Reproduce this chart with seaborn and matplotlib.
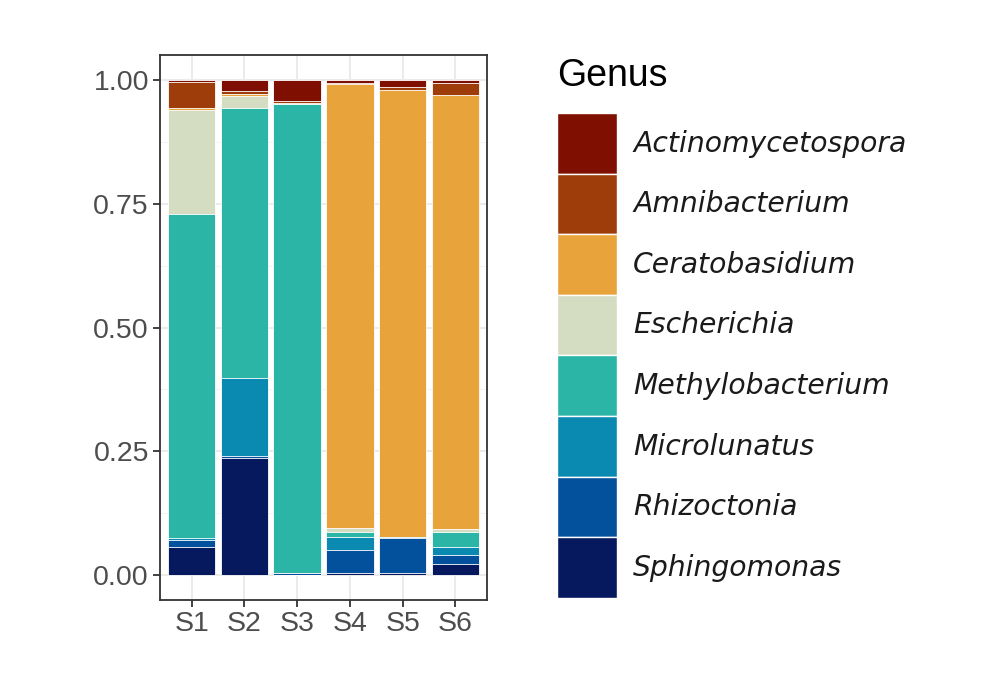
import numpy as np
import pandas as pd
import seaborn as sns
import matplotlib.pyplot as plt
from matplotlib.patches import Patch

samples = ["S1", "S2", "S3", "S4", "S5", "S6"]
genera = ["Actinomycetospora", "Amnibacterium", "Ceratobasidium", "Escherichia",
          "Methylobacterium", "Microlunatus", "Rhizoctonia", "Sphingomonas"]
colors = ["#7F0F00", "#9E3D0A", "#E8A33B", "#D4DCC1",
          "#2BB5A6", "#0A8AB0", "#03509C", "#06185E"]

actinomycetospora = [0.005, 0.023, 0.042, 0.006, 0.015, 0.006]
amnibacterium = [0.052, 0.005, 0.004, 0.002, 0.005, 0.024]
ceratobasidium = [0.003, 0.004, 0.003, 0.897, 0.902, 0.876]
escherichia = [0.211, 0.025, 0.000, 0.007, 0.000, 0.007]
methylobacterium = [0.653, 0.545, 0.946, 0.010, 0.001, 0.030]
microlunatus = [0.004, 0.158, 0.000, 0.027, 0.002, 0.017]
rhizoctonia = [0.016, 0.004, 0.004, 0.047, 0.071, 0.018]
sphingomonas = [0.056, 0.236, 0.001, 0.004, 0.004, 0.022]

values = [actinomycetospora, amnibacterium, ceratobasidium, escherichia,
          methylobacterium, microlunatus, rhizoctonia, sphingomonas]

df = pd.DataFrame(values, index=genera, columns=samples)
# cumulative from the bottom genus (Sphingomonas) upwards
cum = df.iloc[::-1].cumsum().iloc[::-1]

sns.set_style("white")
plt.rcParams['font.family'] = ['Liberation Sans', 'DejaVu Sans']

fig = plt.figure(figsize=(9.95, 6.75), dpi=100)
ax = fig.add_axes([160 / 995, 75 / 675, 327 / 995, 545 / 675])

# draw the tallest cumulative bar first, then cover it with the next ones
for g, c in zip(genera, colors):
    sns.barplot(x=samples, y=cum.loc[g].values, color=c, width=0.9,
                edgecolor="white", linewidth=0.6, saturation=1, ax=ax, zorder=3)

ax.set_xlim(-0.6, 5.6)
ax.set_ylim(-0.05, 1.05)
ax.set_yticks([0, 0.25, 0.5, 0.75, 1.0])
ax.set_yticklabels(["0.00", "0.25", "0.50", "0.75", "1.00"])
ax.set_yticks([0.125, 0.375, 0.625, 0.875], minor=True)
ax.grid(True, which="major", color="#EBEBEB", linewidth=1.4, zorder=0)
ax.grid(True, which="minor", axis="y", color="#F3F3F3", linewidth=0.8, zorder=0)
ax.set_axisbelow(True)
ax.set_xlabel("")
ax.set_ylabel("")

for s in ax.spines.values():
    s.set_color("#333333")
    s.set_linewidth(1.3)
ax.tick_params(axis="both", which="major", length=5, width=1.3, color="#333333",
               labelsize=20.5, labelcolor="#4D4D4D", pad=3, direction="out",
               bottom=True, left=True)
ax.tick_params(axis="y", which="minor", length=0)

fig.text(557 / 995, 1 - 58 / 675, "Genus", fontsize=27, color="black",
         ha="left", va="top")

handles = [Patch(facecolor=c, edgecolor="white", linewidth=1.0) for c in colors]
leg = fig.legend(handles, genera, loc="upper left",
                 bbox_to_anchor=(557 / 995, 1 - 113 / 675),
                 frameon=False, borderpad=0, borderaxespad=0,
                 labelspacing=0, handlelength=2.13, handleheight=2.93,
                 handletextpad=0.57,
                 prop={"family": "DejaVu Sans", "style": "italic", "size": 20.3})
for t in leg.get_texts():
    t.set_color("#1A1A1A")

fig.savefig("out.png", dpi=100)
